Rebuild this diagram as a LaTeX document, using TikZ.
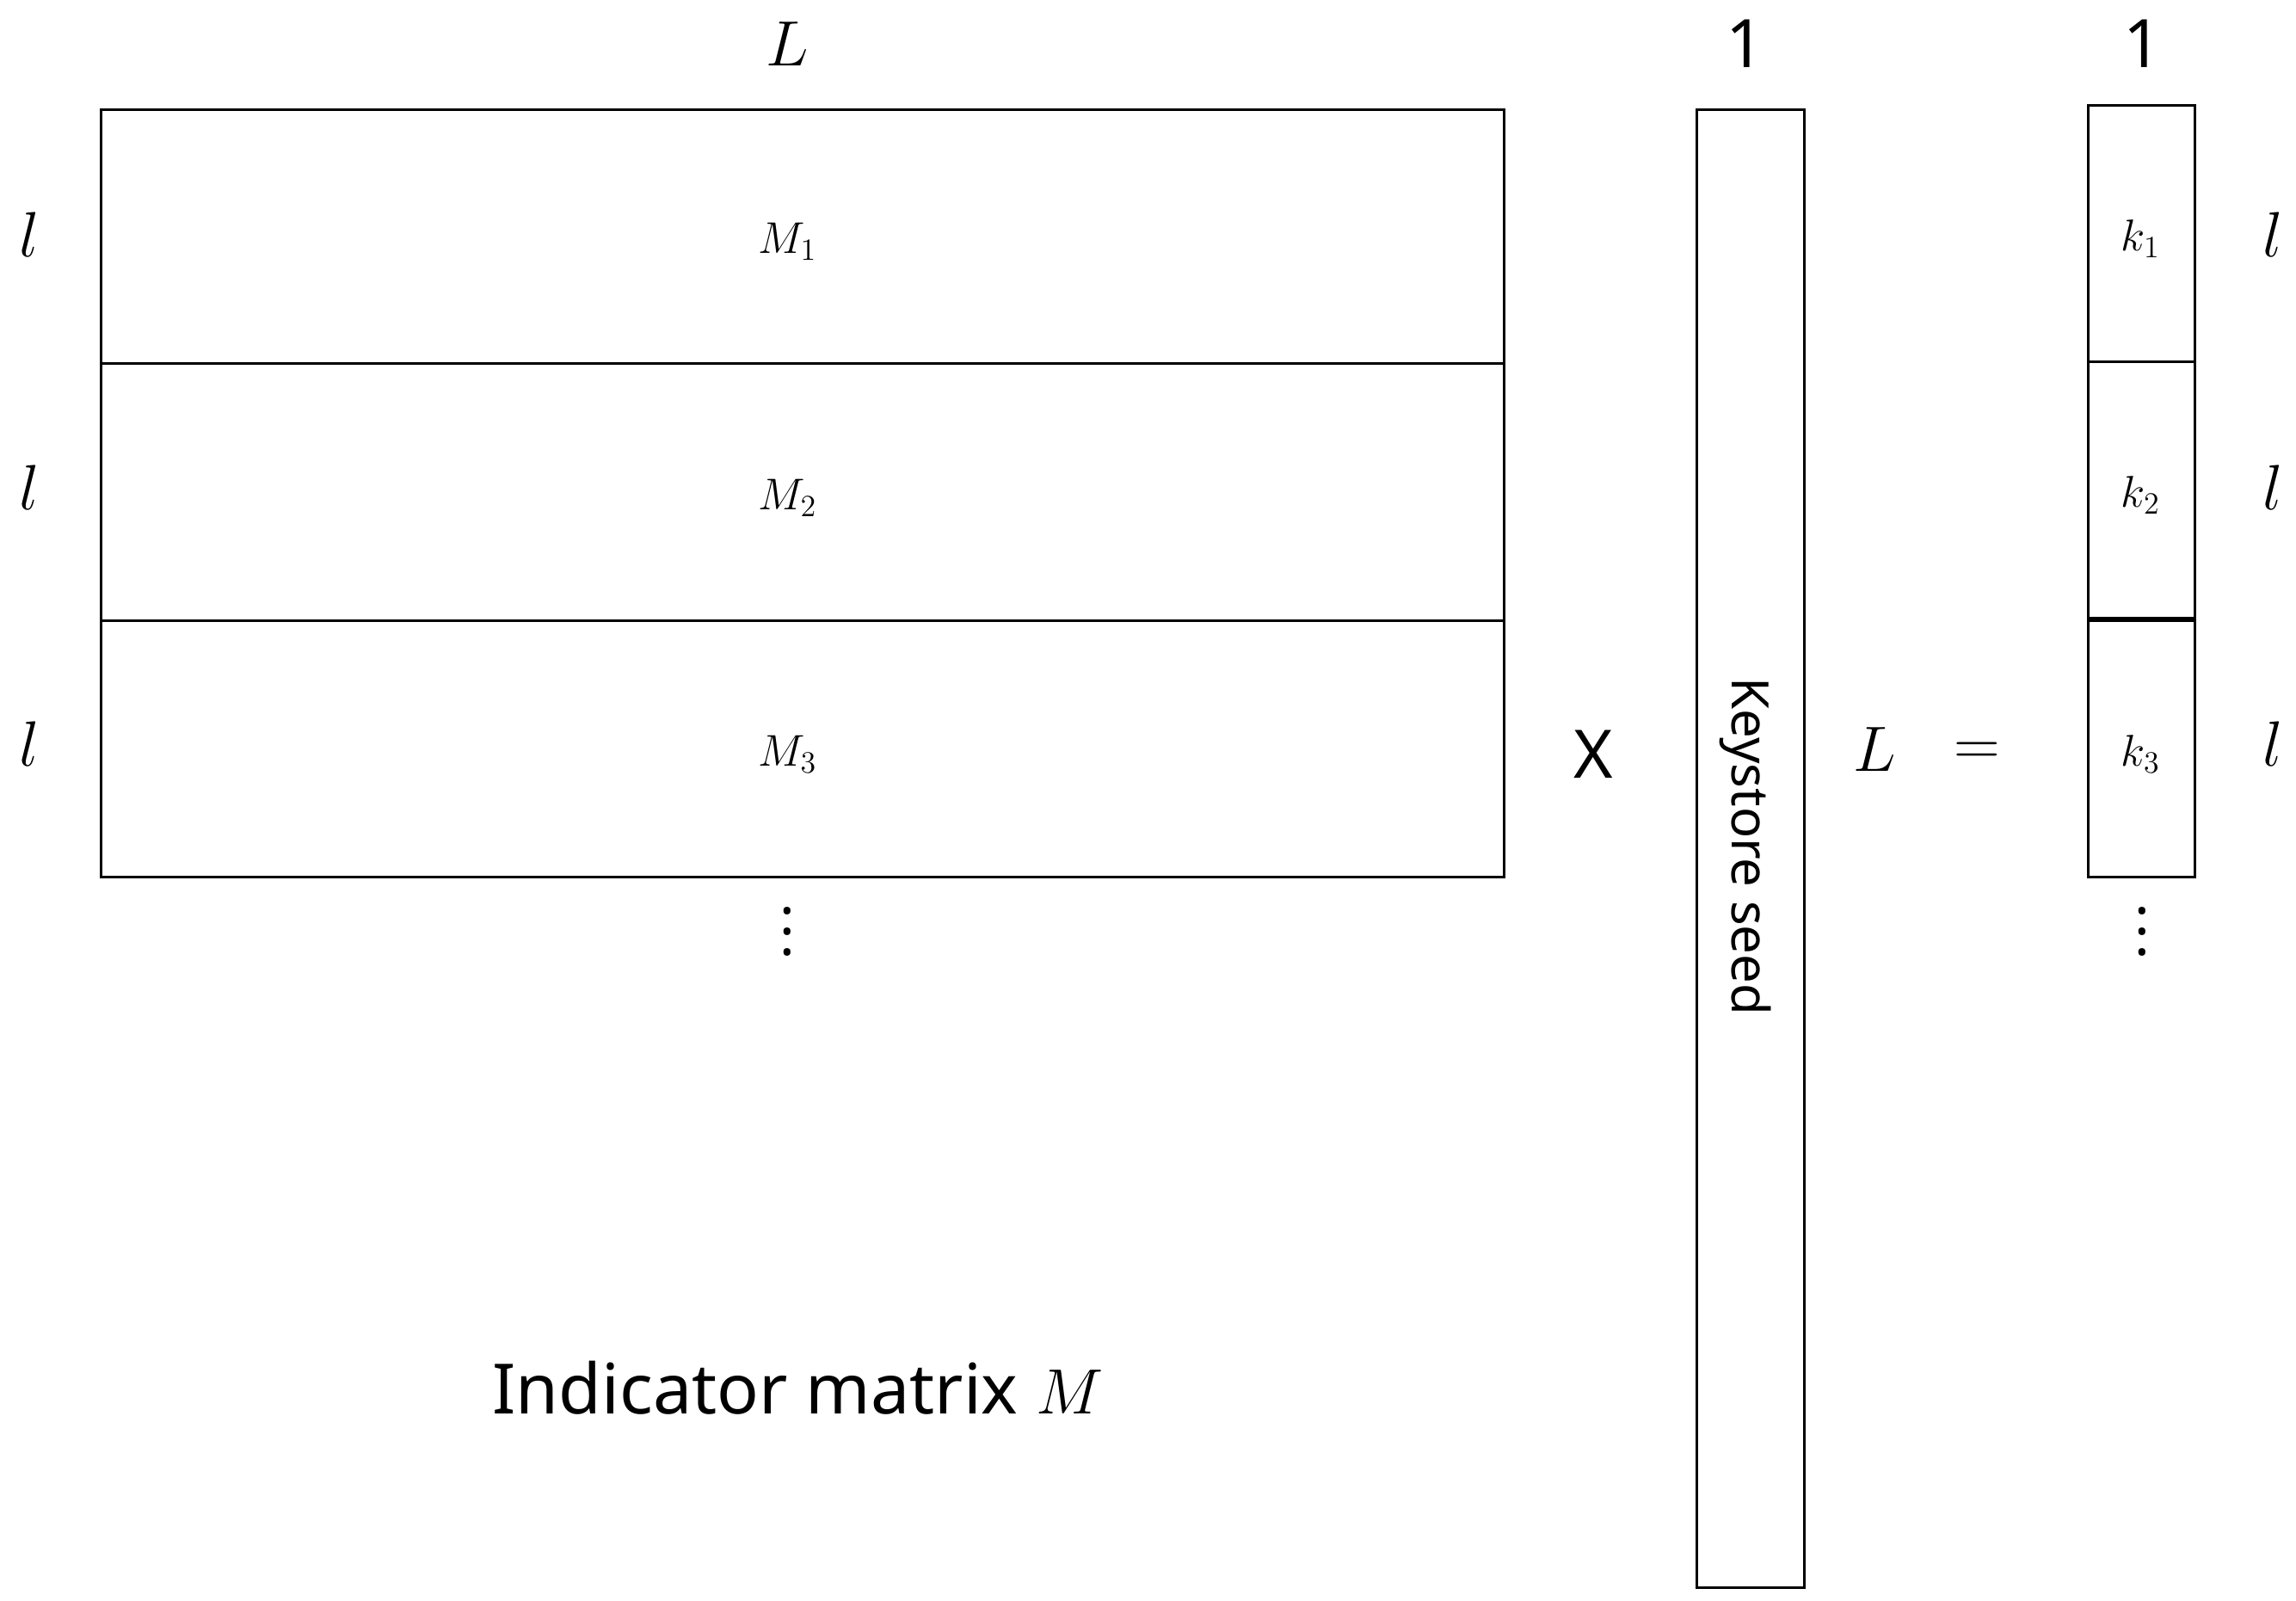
\documentclass[tikz,border=0pt]{standalone}
\usepackage{fontspec}
\setmainfont{Noto Sans}
\begin{document}
\begin{tikzpicture}[x=0.02cm,y=-0.02cm,
 box/.style={draw,line width=1pt},
 dim/.style={font=\fontsize{26}{30}\selectfont},
 sub/.style={font=\fontsize{18}{20}\selectfont},
 dots/.style={font=\fontsize{22}{8}\selectfont,align=center}]
\useasboundingbox (0,0) rectangle (1568,1093);
\draw[box] (69,75) rectangle (1027,599);
\draw[box] (69,248) -- (1027,248);
\draw[box] (69,424) -- (1027,424);
\draw[box] (1159,75) rectangle (1232,1084);
\draw[box] (1426,72) rectangle (1499,599);
\draw[box] (1426,247) -- (1499,247);
\draw[line width=1.8pt] (1426,423) -- (1499,423);
\node[dim] (tL) at (538,30) {$L$};
\node[dim] (t1a) at (1192,30) {1};
\node[dim] (t1b) at (1463,30) {1};
\foreach \y/\n in {160/a,333/b,508/c}{
 \node[dim] (ll\n) at (20,\y) {$l$};
 \node[dim] (lr\n) at (1552,\y) {$l$};}
\node[sub] (m1) at (538,165) {$M_1$};
\node[sub] (m2) at (538,340) {$M_2$};
\node[sub] (m3) at (538,515) {$M_3$};
\node[sub] (k1) at (1462,163) {$k_1$};
\node[sub] (k2) at (1462,338) {$k_2$};
\node[sub] (k3) at (1462,515) {$k_3$};
\node[dots] (d1) at (538,636) {.\\.\\.};
\node[dots] (d2) at (1463,636) {.\\.\\.};
\node[dim] (x) at (1088,515) {X};
\node[dim] (L2) at (1280,512) {$L$};
\node[dim] (eq) at (1350,515) {$=$};
\node[font=\fontsize{20}{24}\selectfont,rotate=-90] (ks) at (1192,578) {Keystore seed};
\node[font=\fontsize{27}{32}\selectfont] (im) at (545,948) {Indicator matrix $M$};
\end{tikzpicture}
\end{document}
